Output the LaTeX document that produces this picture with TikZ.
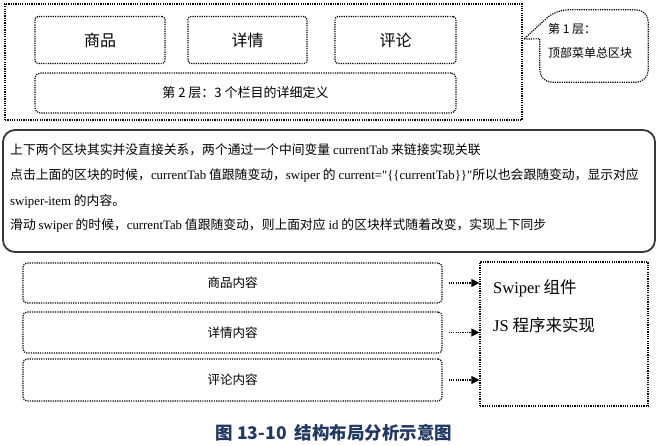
\documentclass[tikz,border=0pt]{standalone}
\usepackage{fontspec}
\setmainfont{Noto Sans CJK SC}
\newfontfamily\lat{Liberation Serif}
\usetikzlibrary{arrows.meta}
\definecolor{framegray}{RGB}{55,55,55}
\definecolor{captionblue}{RGB}{31,56,100}
\tikzset{
  dotbox/.style={draw, line width=1.2pt, dash pattern=on 1.2pt off 1.1pt},
  tabbox/.style={dotbox, rounded corners=3pt, minimum height=47pt, font=\fontsize{16}{16}\selectfont},
  contentbox/.style={dotbox, rounded corners=4pt, minimum width=419pt, font=\fontsize{12.5}{12.5}\selectfont},
  textline/.style={anchor=west, inner sep=0pt, font=\fontsize{12.8}{14}\selectfont},
  dotarrow/.style={line width=1.2pt, dash pattern=on 1.2pt off 1.1pt, shorten <=6pt, -{Triangle[length=8pt,width=8pt]}}
}
\begin{document}
\begin{tikzpicture}[x=1pt,y=-1pt]
\useasboundingbox (0,0) rectangle (658,445);

% layer 1: top menu
\node[dotbox, minimum width=517, minimum height=116] (top) at (263.5,62) {};
\node[tabbox, minimum width=130] (tab1) at (100,40) {商品};
\node[tabbox, minimum width=119] (tab2) at (247.5,40) {详情};
\node[tabbox, minimum width=121] (tab3) at (395.5,40) {评论};
\node[dotbox, rounded corners=5pt, minimum width=421, minimum height=40,
  font=\fontsize{13}{13}\selectfont] (layer2) at (245.5,93) {第 2 层：3 个栏目的详细定义};

% callout
\coordinate (tip) at (524,39);
\node[minimum width=108, minimum height=72] (note) at (594,46) {};
\draw[dotbox] (tip) -- ([yshift=-29pt]note.north west)
  {[rounded corners=12pt] -- (note.south west) -- (note.south east)
  -- (note.north east) -- ([xshift=16pt]note.north west)} -- (tip);
\node[anchor=west, align=left, inner sep=0pt, font=\fontsize{12}{24}\selectfont]
  (notetext) at (548,41) {第 1 层：\\顶部菜单总区块};

% explanation
\node[draw=framegray, line width=1.8pt, rounded corners=12pt, minimum width=652,
  minimum height=122] (info) at (329,191) {};
\node[textline] (line1) at (10,150) {上下两个区块其实并没直接关系，两个通过一个中间变量 {\lat currentTab} 来链接实现关联};
\node[textline] (line2) at (10,175) {点击上面的区块的时候，{\lat currentTab} 值跟随变动，{\lat swiper} 的 {\lat current="\{\{currentTab\}\}"}所以也会跟随变动，显示对应};
\node[textline] (line3) at (10,201) {{\lat swiper-item} 的内容。};
\node[textline] (line4) at (10,225) {滑动 {\lat swiper} 的时候，{\lat currentTab} 值跟随变动，则上面对应 {\lat id} 的区块样式随着改变，实现上下同步};

% layer 3: contents
\node[contentbox, minimum height=40] (cont1) at (232.5,283) {商品内容};
\node[contentbox, minimum height=41] (cont2) at (232.5,332.5) {详情内容};
\node[contentbox, minimum height=42] (cont3) at (232.5,380) {评论内容};
\node[dotbox, minimum width=168, minimum height=144] (swiper) at (564,334) {};
\node[anchor=west, inner sep=0pt, font=\fontsize{16.5}{16.5}\selectfont] (swtext) at (493,288) {{\lat Swiper} 组件};
\node[anchor=west, inner sep=0pt, font=\fontsize{16.5}{16.5}\selectfont] (jstext) at (493,325) {{\lat JS} 程序来实现};

\draw[dotarrow] (cont1.east) -- (cont1.east -| swiper.west);
\draw[dotarrow] (cont2.east) -- (cont2.east -| swiper.west);
\draw[dotarrow] (cont3.east) -- (cont3.east -| swiper.west);

\node[text=captionblue, font=\fontsize{17.5}{17.5}\selectfont\bfseries] (caption) at (334,433)
  {图 13-10\hspace{4pt} 结构布局分析示意图};
\end{tikzpicture}
\end{document}
